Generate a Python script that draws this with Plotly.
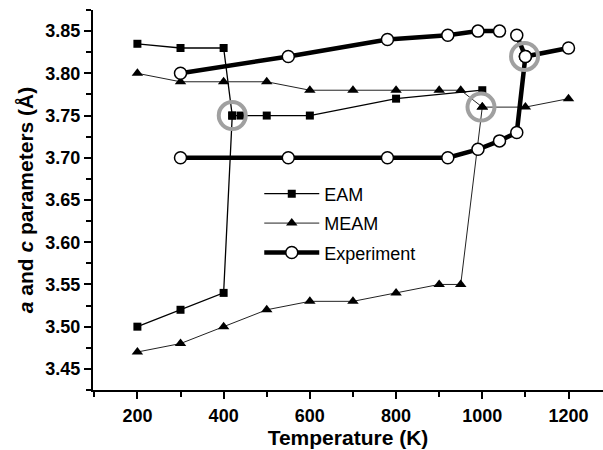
import plotly.graph_objects as go

# ---- data ----
eam_upper_T = [200, 300, 400, 420, 440, 500, 600, 800, 1000]
eam_upper_v = [3.835, 3.83, 3.83, 3.75, 3.75, 3.75, 3.75, 3.77, 3.78]
eam_lower_T = [200, 300, 400, 420]
eam_lower_v = [3.50, 3.52, 3.54, 3.75]

meam_upper_T = [200, 300, 400, 500, 600, 700, 800, 900, 950, 1000, 1100, 1200]
meam_upper_v = [3.80, 3.79, 3.79, 3.79, 3.78, 3.78, 3.78, 3.78, 3.78, 3.76, 3.76, 3.77]
meam_lower_T = [200, 300, 400, 500, 600, 700, 800, 900, 950, 1000]
meam_lower_v = [3.47, 3.48, 3.50, 3.52, 3.53, 3.53, 3.54, 3.55, 3.55, 3.76]

exp_upper_T = [300, 550, 780, 920, 990, 1040, None, 1080, 1100]
exp_upper_v = [3.80, 3.82, 3.84, 3.845, 3.85, 3.85, None, 3.845, 3.82]
exp_lower_T = [300, 550, 780, 920, 990, 1040, 1080, 1100, 1200]
exp_lower_v = [3.70, 3.70, 3.70, 3.70, 3.71, 3.72, 3.73, 3.82, 3.83]

ring_T = [420, 997, 1098]
ring_v = [3.75, 3.76, 3.82]

FONT = "Liberation Sans, Arial, sans-serif"

fig = go.Figure()

# EAM
fig.add_trace(go.Scatter(x=eam_upper_T, y=eam_upper_v, mode="lines+markers", name="EAM",
                         legendgroup="eam", showlegend=True,
                         line=dict(color="black", width=1.3),
                         marker=dict(symbol="square", size=8, color="black")))
fig.add_trace(go.Scatter(x=eam_lower_T, y=eam_lower_v, mode="lines+markers", name="EAM",
                         legendgroup="eam", showlegend=False,
                         line=dict(color="black", width=1.3),
                         marker=dict(symbol="square", size=8, color="black")))
# MEAM
fig.add_trace(go.Scatter(x=meam_upper_T, y=meam_upper_v, mode="lines+markers", name="MEAM",
                         legendgroup="meam", showlegend=True,
                         line=dict(color="#222222", width=1),
                         marker=dict(symbol="triangle-up", size=10, color="black")))
fig.add_trace(go.Scatter(x=meam_lower_T, y=meam_lower_v, mode="lines+markers", name="MEAM",
                         legendgroup="meam", showlegend=False,
                         line=dict(color="#222222", width=1),
                         marker=dict(symbol="triangle-up", size=10, color="black")))
# Experiment
fig.add_trace(go.Scatter(x=exp_upper_T, y=exp_upper_v, mode="lines+markers", name="Experiment",
                         legendgroup="exp", showlegend=True, connectgaps=False,
                         line=dict(color="black", width=4.5),
                         marker=dict(symbol="circle", size=12, color="white",
                                     line=dict(color="black", width=1.5))))
fig.add_trace(go.Scatter(x=exp_lower_T, y=exp_lower_v, mode="lines+markers", name="Experiment",
                         legendgroup="exp", showlegend=False,
                         line=dict(color="black", width=4.5),
                         marker=dict(symbol="circle", size=12, color="white",
                                     line=dict(color="black", width=1.5))))
# highlight rings
fig.add_trace(go.Scatter(x=ring_T, y=ring_v, mode="markers", showlegend=False, hoverinfo="skip",
                         marker=dict(symbol="circle-open", size=27, color="#a0a0a0",
                                     line=dict(color="#a0a0a0", width=4))))

fig.update_layout(
    width=603, height=450,
    margin=dict(l=93, r=0, t=10, b=60),
    paper_bgcolor="white", plot_bgcolor="white",
    font=dict(family=FONT, color="black"),
    showlegend=True,
    legend=dict(x=0.326, y=0.5645, xanchor="left", yanchor="top",
                bgcolor="rgba(0,0,0,0)", font=dict(size=18, family=FONT),
                traceorder="grouped", tracegroupgap=3, itemwidth=55),
    xaxis=dict(range=[97, 1280], tick0=200, dtick=200,
               showline=True, linecolor="black", linewidth=2,
               ticks="outside", ticklen=7, tickwidth=2, tickcolor="black",
               minor=dict(dtick=100, tick0=100, ticks="outside", ticklen=5, tickwidth=2, tickcolor="black"),
               showgrid=False, zeroline=False,
               tickfont=dict(size=18, family=FONT, weight="bold"),
               ticklabelstandoff=1,
               title=dict(text="Temperature (K)", font=dict(size=21, family=FONT, weight="bold"), standoff=4)),
    yaxis=dict(range=[3.425, 3.875], tick0=3.45, dtick=0.05, tickformat=".2f",
               showline=True, linecolor="black", linewidth=2,
               ticks="outside", ticklen=7, tickwidth=2, tickcolor="black",
               minor=dict(dtick=0.025, tick0=3.425, ticks="outside", ticklen=5, tickwidth=2, tickcolor="black"),
               showgrid=False, zeroline=False,
               tickfont=dict(size=18, family=FONT, weight="bold"),
               title=dict(text="<i>a</i> and <i>c</i> parameters (Å)",
                          font=dict(size=21, family=FONT, weight="bold"), standoff=6)),
)

fig.write_html("out.html")
